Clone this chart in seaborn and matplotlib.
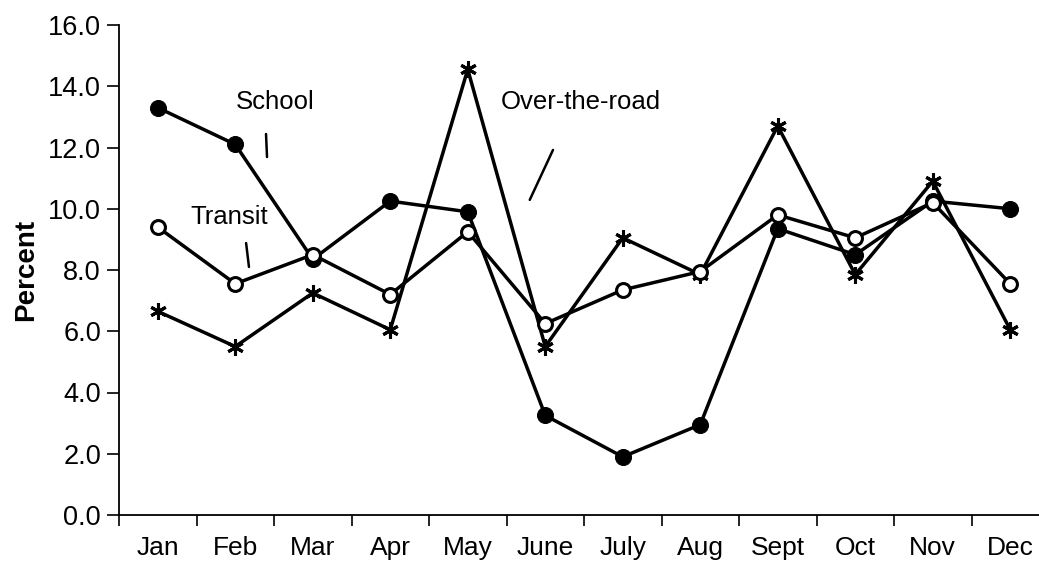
import matplotlib
matplotlib.use("Agg")
import matplotlib.pyplot as plt
import seaborn as sns
import pandas as pd

months = ["Jan", "Feb", "Mar", "Apr", "May", "June", "July", "Aug", "Sept", "Oct", "Nov", "Dec"]
school = [13.3, 12.1, 8.35, 10.25, 9.9, 3.25, 1.9, 2.95, 9.35, 8.5, 10.25, 10.0]
transit = [9.4, 7.55, 8.5, 7.2, 9.25, 6.25, 7.35, 7.95, 9.8, 9.05, 10.2, 7.55]
otr = [6.65, 5.5, 7.25, 6.05, 14.55, 5.5, 9.05, 7.85, 12.7, 7.85, 10.9, 6.05]
yticks = [0, 2, 4, 6, 8, 10, 12, 14, 16]

sns.set_theme(style="white")
plt.rcParams["font.family"] = ["Liberation Sans", "DejaVu Sans"]
plt.rcParams["text.color"] = "black"
plt.rcParams["axes.labelcolor"] = "black"
plt.rcParams["xtick.color"] = "black"
plt.rcParams["ytick.color"] = "black"

fig = plt.figure(figsize=(10.39, 5.61), dpi=100)
W, H = 1039, 561
ax = fig.add_axes([119 / W, (H - 515) / H, (1049 - 119) / W, (515 - 25) / H])

x = list(range(len(months)))
df_s = pd.DataFrame({"x": x, "y": school})
df_t = pd.DataFrame({"x": x, "y": transit})
df_o = pd.DataFrame({"x": x, "y": otr})

sns.lineplot(data=df_o, x="x", y="y", ax=ax, color="black", lw=2.5, marker=(6, 2, 0),
             markersize=12, markeredgewidth=2.2, markeredgecolor="black", zorder=3)
sns.lineplot(data=df_s, x="x", y="y", ax=ax, color="black", lw=2.5, marker="o",
             markersize=11.5, markerfacecolor="black", markeredgecolor="black", zorder=4)
sns.lineplot(data=df_t, x="x", y="y", ax=ax, color="black", lw=2.5, marker="o",
             markersize=10, markerfacecolor="white", markeredgecolor="black",
             markeredgewidth=2.2, zorder=5)

ax.set_xlim(-0.5, 11.5)
ax.set_ylim(0, 16)
ax.set_yticks(yticks)
ax.set_yticklabels([f"{v:.1f}" for v in yticks], fontsize=19.5)
ax.set_xticks(x)
ax.set_xticklabels(months, fontsize=19)
ax.set_xticks([i - 0.5 for i in range(13)], minor=True)
ax.tick_params(axis="x", which="major", length=0, pad=15)
ax.tick_params(axis="x", which="minor", direction="out", length=8, width=1.2, color="black", bottom=True)
ax.tick_params(axis="y", direction="out", length=9, width=1.2, color="black", left=True, pad=4)
ax.set_xlabel("")
ax.set_ylabel("Percent", fontsize=20, fontweight="bold", labelpad=6)

for side in ["top", "right"]:
    ax.spines[side].set_visible(False)
for side in ["left", "bottom"]:
    ax.spines[side].set_color("black")
    ax.spines[side].set_linewidth(1.3)

ax.text(1.01, 13.5, "School", fontsize=18.5, ha="left", va="center")
ax.text(0.42, 9.73, "Transit", fontsize=18.5, ha="left", va="center")
ax.text(4.43, 13.5, "Over-the-road", fontsize=18.5, ha="left", va="center")
ax.plot([1.397, 1.41], [12.44, 11.69], color="black", lw=1.8)
ax.plot([1.14, 1.177], [8.88, 8.10], color="black", lw=1.8)
ax.plot([5.1, 4.8], [11.92, 10.29], color="black", lw=1.8)

fig.savefig("out.png", dpi=100)
